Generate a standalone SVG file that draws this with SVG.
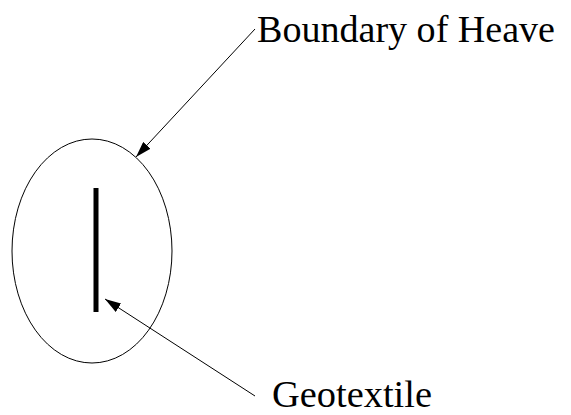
<svg xmlns="http://www.w3.org/2000/svg" width="571" height="415" viewBox="0 0 571 415">
<style>
.conn{stroke:#000;stroke-width:1;fill:none}
.lbl{font-family:"Liberation Serif","Times New Roman",serif;fill:#000}
</style>
<defs>
<marker id="ah" viewBox="0 0 16 10" refX="16" refY="5" markerWidth="16" markerHeight="10" markerUnits="userSpaceOnUse" orient="auto">
<path d="M0,0 L16,5 L0,10 z" fill="#000"/>
</marker>
</defs>
<rect width="571" height="415" fill="#fff"/>
<g id="heave">
<ellipse cx="92" cy="251" rx="80" ry="112" fill="none" stroke="#000" stroke-width="1"/>
</g>
<g id="geotextile-bar">
<rect x="93.5" y="188" width="5" height="124" fill="#000"/>
</g>
<g id="label-heave">
<text class="lbl" x="257" y="42" font-size="38" textLength="298" lengthAdjust="spacingAndGlyphs">Boundary of Heave</text>
</g>
<g id="label-geotextile">
<text class="lbl" x="272" y="407" font-size="38" textLength="160" lengthAdjust="spacingAndGlyphs">Geotextile</text>
</g>
<g id="connectors">
<path class="conn" d="M255,29 L136,157" marker-end="url(#ah)"/>
<path class="conn" d="M255,396 L105,299" marker-end="url(#ah)"/>
</g>
</svg>
